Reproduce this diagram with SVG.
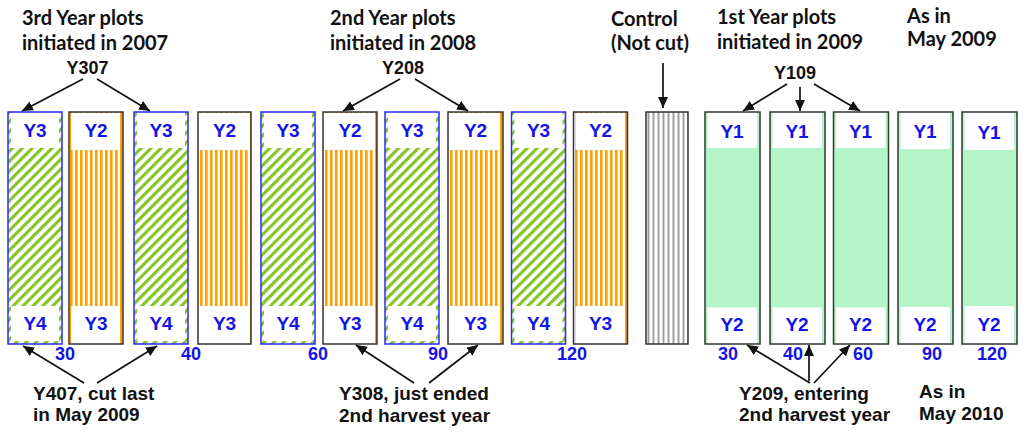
<svg xmlns="http://www.w3.org/2000/svg" width="1024" height="436" viewBox="0 0 1024 436">
<defs>
<pattern id="gs" patternUnits="userSpaceOnUse" width="7" height="7" patternTransform="rotate(45)">
<rect width="7" height="7" fill="#ffffff"/>
<rect width="3.2" height="7" fill="#86c42a"/>
</pattern>
<pattern id="os" patternUnits="userSpaceOnUse" width="5" height="5">
<rect width="5" height="5" fill="#ffffff"/>
<rect width="2.6" height="5" fill="#ffa000"/>
</pattern>
<pattern id="cs" patternUnits="userSpaceOnUse" width="5" height="5" x="646">
<rect width="5" height="5" fill="#ffffff"/>
<rect x="1.5" width="2" height="5" fill="#a0a0a0"/>
</pattern>
<marker id="ah" markerUnits="userSpaceOnUse" markerWidth="11" markerHeight="10" refX="11" refY="5" orient="auto">
<path d="M0,0 L11,5 L0,10 z" fill="#111"/>
</marker>
</defs>
<style>
.hdr{font-family:Lato,"Open Sans",sans-serif;font-weight:bold;font-size:20px;fill:#111}
.lbl{font-family:"Liberation Sans",Arial,sans-serif;font-weight:bold;font-size:19px;fill:#111}
.yl{font-family:"Liberation Sans",Arial,sans-serif;font-weight:bold;font-size:19px;fill:#1414e6;text-anchor:middle}
.num{font-family:"Liberation Sans",Arial,sans-serif;font-weight:bold;font-size:18px;fill:#1414e6}
.bb{fill:none;stroke:#2a2aff;stroke-width:1.5}
.ob{fill:none;stroke:#333;stroke-width:1.5}
.gb{fill:none;stroke:#2e3a2e;stroke-width:1.5}
.gf{fill:#b4f5c8}
.w{fill:#ffffff}
.arr{fill:none;stroke:#111;stroke-width:1.7;marker-end:url(#ah)}
</style>
<rect width="1024" height="436" fill="#ffffff"/>

<g id="headers">
<text class="hdr" x="22" y="25">3rd Year plots</text>
<text class="hdr" x="22" y="50">initiated in 2007</text>
<text class="lbl" x="87.5" y="74" text-anchor="middle" style="font-size:18px">Y307</text>
<text class="hdr" x="330" y="25">2nd Year plots</text>
<text class="hdr" x="330" y="50">initiated in 2008</text>
<text class="lbl" x="403" y="74" text-anchor="middle" style="font-size:18px">Y208</text>
<text class="hdr" x="611" y="26">Control</text>
<text class="hdr" x="611" y="50">(Not cut)</text>
<text class="hdr" x="717" y="24">1st Year plots</text>
<text class="hdr" x="717" y="49">initiated in 2009</text>
<text class="lbl" x="795" y="79" text-anchor="middle" style="font-size:18px">Y109</text>
<text class="hdr" x="907" y="23">As in</text>
<text class="hdr" x="907" y="46">May 2009</text>
</g>

<g id="plot-y3-a">
<rect x="8" y="112" width="54" height="232" fill="url(#gs)"/>
<rect class="w" x="11" y="112" width="48" height="36"/>
<rect class="w" x="11" y="306" width="48" height="35"/>
<rect class="bb" x="8" y="112" width="54" height="232"/>
<text class="yl" x="35" y="137">Y3</text>
<text class="yl" x="35" y="330">Y4</text>
</g>
<g id="plot-y2-a">
<rect x="69" y="112" width="54" height="232" fill="url(#os)"/>
<rect class="w" x="71" y="113" width="49" height="37"/>
<rect class="w" x="71" y="306" width="49" height="38"/>
<rect class="ob" x="69" y="112" width="54" height="232"/>
<text class="yl" x="96" y="137">Y2</text>
<text class="yl" x="96" y="330">Y3</text>
</g>
<g id="plot-y3-b">
<rect x="134" y="112" width="54" height="232" fill="url(#gs)"/>
<rect class="w" x="137" y="112" width="48" height="36"/>
<rect class="w" x="137" y="306" width="48" height="35"/>
<rect class="bb" x="134" y="112" width="54" height="232"/>
<text class="yl" x="161" y="137">Y3</text>
<text class="yl" x="161" y="330">Y4</text>
</g>
<g id="plot-y2-b">
<rect x="198" y="112" width="53" height="232" fill="url(#os)"/>
<rect class="w" x="200" y="113" width="48" height="37"/>
<rect class="w" x="200" y="306" width="48" height="38"/>
<rect class="ob" x="198" y="112" width="53" height="232"/>
<text class="yl" x="224.5" y="137">Y2</text>
<text class="yl" x="224.5" y="330">Y3</text>
</g>
<g id="plot-y3-c">
<rect x="261" y="112" width="54" height="232" fill="url(#gs)"/>
<rect class="w" x="264" y="112" width="48" height="36"/>
<rect class="w" x="264" y="306" width="48" height="35"/>
<rect class="bb" x="261" y="112" width="54" height="232"/>
<text class="yl" x="288" y="137">Y3</text>
<text class="yl" x="288" y="330">Y4</text>
</g>
<g id="plot-y2-c">
<rect x="323" y="112" width="54" height="232" fill="url(#os)"/>
<rect class="w" x="325" y="113" width="49" height="37"/>
<rect class="w" x="325" y="306" width="49" height="38"/>
<rect class="ob" x="323" y="112" width="54" height="232"/>
<text class="yl" x="350" y="137">Y2</text>
<text class="yl" x="350" y="330">Y3</text>
</g>
<g id="plot-y3-d">
<rect x="385" y="112" width="54" height="232" fill="url(#gs)"/>
<rect class="w" x="388" y="112" width="48" height="36"/>
<rect class="w" x="388" y="306" width="48" height="35"/>
<rect class="bb" x="385" y="112" width="54" height="232"/>
<text class="yl" x="412" y="137">Y3</text>
<text class="yl" x="412" y="330">Y4</text>
</g>
<g id="plot-y2-d">
<rect x="448" y="112" width="55" height="232" fill="url(#os)"/>
<rect class="w" x="450" y="113" width="50" height="37"/>
<rect class="w" x="450" y="306" width="50" height="38"/>
<rect class="ob" x="448" y="112" width="55" height="232"/>
<text class="yl" x="475.5" y="137">Y2</text>
<text class="yl" x="475.5" y="330">Y3</text>
</g>
<g id="plot-y3-e">
<rect x="511.5" y="112" width="54" height="232" fill="url(#gs)"/>
<rect class="w" x="514.5" y="112" width="48" height="36"/>
<rect class="w" x="514.5" y="306" width="48" height="35"/>
<rect class="bb" x="511.5" y="112" width="54" height="232"/>
<text class="yl" x="538.5" y="137">Y3</text>
<text class="yl" x="538.5" y="330">Y4</text>
</g>
<g id="plot-y2-e">
<rect x="573.5" y="112" width="54" height="232" fill="url(#os)"/>
<rect class="w" x="575.5" y="113" width="49" height="37"/>
<rect class="w" x="575.5" y="306" width="49" height="38"/>
<rect class="ob" x="573.5" y="112" width="54" height="232"/>
<text class="yl" x="600.5" y="137">Y2</text>
<text class="yl" x="600.5" y="330">Y3</text>
</g>

<g id="control">
<rect x="646" y="112" width="42" height="232" fill="url(#cs)"/>
<rect class="ob" x="646" y="112" width="42" height="232"/>
</g>

<g id="plot-y1-a">
<rect class="gf" x="705" y="112" width="55" height="232"/>
<rect class="w" x="707.5" y="112" width="49.5" height="36"/>
<rect class="w" x="707.5" y="307.5" width="49.5" height="36.5"/>
<rect class="gb" x="705" y="112" width="55" height="232"/>
<text class="yl" x="732" y="138">Y1</text>
<text class="yl" x="732" y="331">Y2</text>
</g>
<g id="plot-y1-b">
<rect class="gf" x="770" y="112" width="55" height="232"/>
<rect class="w" x="772.5" y="112" width="49.5" height="36"/>
<rect class="w" x="772.5" y="307.5" width="49.5" height="36.5"/>
<rect class="gb" x="770" y="112" width="55" height="232"/>
<text class="yl" x="797" y="138">Y1</text>
<text class="yl" x="797" y="331">Y2</text>
</g>
<g id="plot-y1-c">
<rect class="gf" x="833.5" y="112" width="55" height="232"/>
<rect class="w" x="836" y="112" width="49.5" height="36"/>
<rect class="w" x="836" y="307.5" width="49.5" height="36.5"/>
<rect class="gb" x="833.5" y="112" width="55" height="232"/>
<text class="yl" x="860.5" y="138">Y1</text>
<text class="yl" x="860.5" y="331">Y2</text>
</g>
<g id="plot-y1-d">
<rect class="gf" x="898" y="112" width="55" height="232"/>
<rect class="w" x="900.5" y="112" width="49.5" height="37"/>
<rect class="w" x="900.5" y="307" width="49.5" height="37"/>
<rect class="gb" x="898" y="112" width="55" height="232"/>
<text class="yl" x="925" y="138">Y1</text>
<text class="yl" x="925" y="331">Y2</text>
</g>
<g id="plot-y1-e">
<rect class="gf" x="962" y="112" width="55" height="232"/>
<rect class="w" x="964.5" y="112" width="49.5" height="38"/>
<rect class="w" x="964.5" y="306" width="49.5" height="38"/>
<rect class="gb" x="962" y="112" width="55" height="232"/>
<text class="yl" x="989" y="139">Y1</text>
<text class="yl" x="989" y="331">Y2</text>
</g>

<g id="numbers">
<text class="num" x="55" y="360">30</text>
<text class="num" x="181" y="360">40</text>
<text class="num" x="308" y="360">60</text>
<text class="num" x="428" y="360">90</text>
<text class="num" x="557" y="360">120</text>
<text class="num" x="718" y="360">30</text>
<text class="num" x="783" y="360">40</text>
<text class="num" x="853" y="360">60</text>
<text class="num" x="922" y="360">90</text>
<text class="num" x="977" y="360">120</text>
</g>

<g id="connectors">
<line class="arr" x1="83" y1="79" x2="22" y2="111"/>
<line class="arr" x1="97" y1="79" x2="150" y2="111"/>
<line class="arr" x1="400" y1="79" x2="343" y2="111"/>
<line class="arr" x1="415" y1="79" x2="468" y2="111"/>
<line class="arr" x1="663" y1="63" x2="663" y2="108"/>
<line class="arr" x1="787" y1="84" x2="743" y2="111"/>
<line class="arr" x1="800" y1="87" x2="800" y2="111"/>
<line class="arr" x1="814" y1="84" x2="860" y2="111"/>
<line class="arr" x1="84" y1="383" x2="23" y2="346"/>
<line class="arr" x1="97" y1="383" x2="157" y2="346"/>
<line class="arr" x1="414" y1="383" x2="356" y2="345"/>
<line class="arr" x1="429" y1="383" x2="478" y2="345"/>
<line class="arr" x1="810" y1="383" x2="747" y2="345"/>
<line class="arr" x1="809" y1="381" x2="809" y2="345"/>
<line class="arr" x1="814" y1="383" x2="850" y2="345"/>
</g>

<g id="footers">
<text class="lbl" x="33" y="400">Y407, cut last</text>
<text class="lbl" x="33" y="421">in May 2009</text>
<text class="lbl" x="339" y="400">Y308, just ended</text>
<text class="lbl" x="339" y="422">2nd harvest year</text>
<text class="lbl" x="739" y="400">Y209, entering</text>
<text class="lbl" x="739" y="421">2nd harvest year</text>
<text class="lbl" x="919" y="398">As in</text>
<text class="lbl" x="919" y="420">May 2010</text>
</g>
</svg>
